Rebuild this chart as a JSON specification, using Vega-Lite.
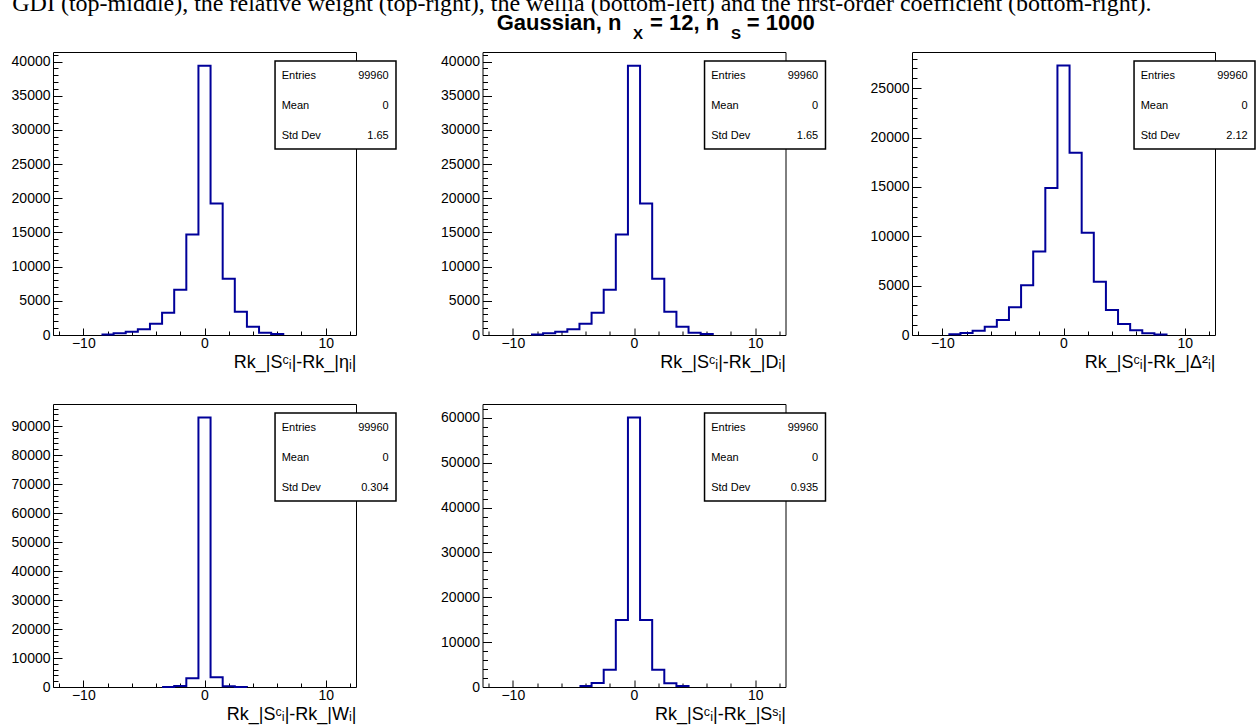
{
  "$schema": "https://vega.github.io/schema/vega-lite/v6.json",
  "padding": {"left": 11, "top": -9, "right": 0, "bottom": 12},
  "background": "white",
  "datasets": {
    "h1": [{"bin_start":-8.5,"count":80},{"bin_start":-7.5,"count":240},{"bin_start":-6.5,"count":490},{"bin_start":-5.5,"count":830},{"bin_start":-4.5,"count":1650},{"bin_start":-3.5,"count":3260},{"bin_start":-2.5,"count":6630},{"bin_start":-1.5,"count":14700},{"bin_start":-0.5,"count":39400},{"bin_start":0.5,"count":19250},{"bin_start":1.5,"count":8230},{"bin_start":2.5,"count":3410},{"bin_start":3.5,"count":1220},{"bin_start":4.5,"count":340},{"bin_start":5.5,"count":150},{"bin_start":6.5,"count":0}],
    "h2": [{"bin_start":-8.5,"count":80},{"bin_start":-7.5,"count":240},{"bin_start":-6.5,"count":490},{"bin_start":-5.5,"count":830},{"bin_start":-4.5,"count":1650},{"bin_start":-3.5,"count":3260},{"bin_start":-2.5,"count":6630},{"bin_start":-1.5,"count":14700},{"bin_start":-0.5,"count":39400},{"bin_start":0.5,"count":19250},{"bin_start":1.5,"count":8230},{"bin_start":2.5,"count":3410},{"bin_start":3.5,"count":1220},{"bin_start":4.5,"count":340},{"bin_start":5.5,"count":150},{"bin_start":6.5,"count":0}],
    "h3": [{"bin_start":-9.5,"count":80},{"bin_start":-8.5,"count":200},{"bin_start":-7.5,"count":440},{"bin_start":-6.5,"count":840},{"bin_start":-5.5,"count":1520},{"bin_start":-4.5,"count":2800},{"bin_start":-3.5,"count":5030},{"bin_start":-2.5,"count":8470},{"bin_start":-1.5,"count":14880},{"bin_start":-0.5,"count":27300},{"bin_start":0.5,"count":18450},{"bin_start":1.5,"count":10360},{"bin_start":2.5,"count":5400},{"bin_start":3.5,"count":2530},{"bin_start":4.5,"count":1110},{"bin_start":5.5,"count":470},{"bin_start":6.5,"count":170},{"bin_start":7.5,"count":60},{"bin_start":8.5,"count":0}],
    "h4": [{"bin_start":-3.5,"count":20},{"bin_start":-2.5,"count":380},{"bin_start":-1.5,"count":3000},{"bin_start":-0.5,"count":92950},{"bin_start":0.5,"count":3400},{"bin_start":1.5,"count":220},{"bin_start":2.5,"count":10},{"bin_start":3.5,"count":0}],
    "h5": [{"bin_start":-4.5,"count":220},{"bin_start":-3.5,"count":890},{"bin_start":-2.5,"count":3870},{"bin_start":-1.5,"count":14950},{"bin_start":-0.5,"count":60100},{"bin_start":0.5,"count":14950},{"bin_start":1.5,"count":3870},{"bin_start":2.5,"count":820},{"bin_start":3.5,"count":220},{"bin_start":4.5,"count":0}],
    "s1": [{"k":1,"label":"Entries","value":"99960"},{"k":2,"label":"Mean","value":"0"},{"k":3,"label":"Std Dev","value":"1.65"}],
    "s2": [{"k":1,"label":"Entries","value":"99960"},{"k":2,"label":"Mean","value":"0"},{"k":3,"label":"Std Dev","value":"1.65"}],
    "s3": [{"k":1,"label":"Entries","value":"99960"},{"k":2,"label":"Mean","value":"0"},{"k":3,"label":"Std Dev","value":"2.12"}],
    "s4": [{"k":1,"label":"Entries","value":"99960"},{"k":2,"label":"Mean","value":"0"},{"k":3,"label":"Std Dev","value":"0.304"}],
    "s5": [{"k":1,"label":"Entries","value":"99960"},{"k":2,"label":"Mean","value":"0"},{"k":3,"label":"Std Dev","value":"0.935"}]
  },
  "columns": 3,
  "spacing": {"row": 69, "column": 126.5},
  "bounds": "flush",
  "concat": [
    {
      "width": 303, "height": 283,
      "resolve": {"scale": {"y": "independent"}, "axis": {"x": "independent", "y": "independent"}},
      "layer": [
        {"data": {"name": "h1"}, "mark": {"type": "line", "interpolate": "step-after", "color": "#000099", "strokeWidth": 2},
         "encoding": {
           "x": {"field": "bin_start", "type": "quantitative", "scale": {"domain": [-12.5, 12.5], "nice": false, "zero": false},
                 "axis": {"orient": "bottom", "values": [-10, 0, 10], "format": "d", "tickSize": -7, "labelPadding": 8, "title": "Rk_|Sᶜᵢ|-Rk_|ηᵢ|", "titleAnchor": "end", "titlePadding": 3}},
           "y": {"field": "count", "type": "quantitative", "scale": {"domain": [0, 41400], "nice": false},
                 "axis": {"orient": "left", "values": [0,5000,10000,15000,20000,25000,30000,35000,40000], "format": "d", "tickSize": -9, "labelPadding": 12, "title": null}}}},
        {"data": {"name": "h1"}, "mark": {"type": "line", "strokeOpacity": 0},
         "encoding": {
           "x": {"field": "bin_start", "type": "quantitative", "scale": {"domain": [-12.5, 12.5], "nice": false, "zero": false},
                 "axis": {"orient": "bottom", "values": [-12,-8,-6,-4,-2,2,4,6,8,12], "tickSize": -4, "labels": false, "domain": false, "title": null}},
           "y": {"field": "count", "type": "quantitative", "scale": {"domain": [0, 41400], "nice": false},
                 "axis": {"orient": "left", "values": [1000,2000,3000,4000,6000,7000,8000,9000,11000,12000,13000,14000,16000,17000,18000,19000,21000,22000,23000,24000,26000,27000,28000,29000,31000,32000,33000,34000,36000,37000,38000,39000,41000], "tickSize": -5, "labels": false, "domain": false, "title": null}}}},
        {"data": {"values": [{}]}, "mark": {"type": "rect", "fill": "white", "stroke": "black", "strokeWidth": 1.5},
         "encoding": {
           "x": {"datum": 5.82, "type": "quantitative", "axis": {"orient": "top", "ticks": false, "labels": false, "title": null}},
           "x2": {"datum": 15.8},
           "y": {"datum": 0.51, "type": "quantitative", "scale": {"domain": [0.21, 9.6433], "reverse": true, "nice": false, "zero": false}, "axis": {"orient": "right", "ticks": false, "labels": false, "title": null}},
           "y2": {"datum": 3.443}}},
        {"data": {"name": "s1"}, "mark": {"type": "text", "align": "left", "baseline": "middle", "fontSize": 11, "color": "black"},
         "encoding": {
           "x": {"datum": 6.37, "type": "quantitative", "axis": null},
           "y": {"field": "k", "type": "quantitative", "scale": {"domain": [0.21, 9.6433], "reverse": true, "nice": false, "zero": false}, "axis": null},
           "text": {"field": "label"}}},
        {"data": {"name": "s1"}, "mark": {"type": "text", "align": "right", "baseline": "middle", "fontSize": 11, "color": "black"},
         "encoding": {
           "x": {"datum": 15.2, "type": "quantitative", "axis": null},
           "y": {"field": "k", "type": "quantitative", "scale": {"domain": [0.21, 9.6433], "reverse": true, "nice": false, "zero": false}, "axis": null},
           "text": {"field": "value"}}}
      ]
    },
    {
      "width": 303, "height": 283,
      "resolve": {"scale": {"y": "independent"}, "axis": {"x": "independent", "y": "independent"}},
      "layer": [
        {"data": {"name": "h2"}, "mark": {"type": "line", "interpolate": "step-after", "color": "#000099", "strokeWidth": 2},
         "encoding": {
           "x": {"field": "bin_start", "type": "quantitative", "scale": {"domain": [-12.5, 12.5], "nice": false, "zero": false},
                 "axis": {"orient": "bottom", "values": [-10, 0, 10], "format": "d", "tickSize": -7, "labelPadding": 8, "title": "Rk_|Sᶜᵢ|-Rk_|Dᵢ|", "titleAnchor": "end", "titlePadding": 3}},
           "y": {"field": "count", "type": "quantitative", "scale": {"domain": [0, 41400], "nice": false},
                 "axis": {"orient": "left", "values": [0,5000,10000,15000,20000,25000,30000,35000,40000], "format": "d", "tickSize": -9, "labelPadding": 12, "title": null}}}},
        {"data": {"name": "h2"}, "mark": {"type": "line", "strokeOpacity": 0},
         "encoding": {
           "x": {"field": "bin_start", "type": "quantitative", "scale": {"domain": [-12.5, 12.5], "nice": false, "zero": false},
                 "axis": {"orient": "bottom", "values": [-12,-8,-6,-4,-2,2,4,6,8,12], "tickSize": -4, "labels": false, "domain": false, "title": null}},
           "y": {"field": "count", "type": "quantitative", "scale": {"domain": [0, 41400], "nice": false},
                 "axis": {"orient": "left", "values": [1000,2000,3000,4000,6000,7000,8000,9000,11000,12000,13000,14000,16000,17000,18000,19000,21000,22000,23000,24000,26000,27000,28000,29000,31000,32000,33000,34000,36000,37000,38000,39000,41000], "tickSize": -5, "labels": false, "domain": false, "title": null}}}},
        {"data": {"values": [{}]}, "mark": {"type": "rect", "fill": "white", "stroke": "black", "strokeWidth": 1.5},
         "encoding": {
           "x": {"datum": 5.82, "type": "quantitative", "axis": {"orient": "top", "ticks": false, "labels": false, "title": null}},
           "x2": {"datum": 15.8},
           "y": {"datum": 0.51, "type": "quantitative", "scale": {"domain": [0.21, 9.6433], "reverse": true, "nice": false, "zero": false}, "axis": {"orient": "right", "ticks": false, "labels": false, "title": null}},
           "y2": {"datum": 3.443}}},
        {"data": {"name": "s2"}, "mark": {"type": "text", "align": "left", "baseline": "middle", "fontSize": 11, "color": "black"},
         "encoding": {
           "x": {"datum": 6.37, "type": "quantitative", "axis": null},
           "y": {"field": "k", "type": "quantitative", "scale": {"domain": [0.21, 9.6433], "reverse": true, "nice": false, "zero": false}, "axis": null},
           "text": {"field": "label"}}},
        {"data": {"name": "s2"}, "mark": {"type": "text", "align": "right", "baseline": "middle", "fontSize": 11, "color": "black"},
         "encoding": {
           "x": {"datum": 15.2, "type": "quantitative", "axis": null},
           "y": {"field": "k", "type": "quantitative", "scale": {"domain": [0.21, 9.6433], "reverse": true, "nice": false, "zero": false}, "axis": null},
           "text": {"field": "value"}}},
        {"data": {"values": [{}]}, "mark": {"type": "text", "align": "left", "baseline": "alphabetic", "fontSize": 24, "font": "Liberation Serif", "color": "black", "text": "GDI (top-middle), the relative weight (top-right), the wellia (bottom-left) and the first-order coefficient (bottom-right)."},
         "encoding": {
           "x": {"datum": -51.3, "type": "quantitative", "axis": null},
           "y": {"datum": -1.157, "type": "quantitative", "scale": {"domain": [0.21, 9.6433], "reverse": true, "nice": false, "zero": false}, "axis": null}}},
        {"data": {"values": [{}]}, "mark": {"type": "text", "align": "left", "baseline": "alphabetic", "fontSize": 22, "fontWeight": "bold", "color": "black", "text": "Gaussian, n"},
         "encoding": {
           "x": {"datum": -11.33, "type": "quantitative", "axis": null},
           "y": {"datum": -0.53, "type": "quantitative", "scale": {"domain": [0.21, 9.6433], "reverse": true, "nice": false, "zero": false}, "axis": null}}},
        {"data": {"values": [{}]}, "mark": {"type": "text", "align": "left", "baseline": "alphabetic", "fontSize": 15, "fontWeight": "bold", "color": "black", "text": "X"},
         "encoding": {
           "x": {"datum": -0.08, "type": "quantitative", "axis": null},
           "y": {"datum": -0.223, "type": "quantitative", "scale": {"domain": [0.21, 9.6433], "reverse": true, "nice": false, "zero": false}, "axis": null}}},
        {"data": {"values": [{}]}, "mark": {"type": "text", "align": "left", "baseline": "alphabetic", "fontSize": 22, "fontWeight": "bold", "color": "black", "text": "= 12, n"},
         "encoding": {
           "x": {"datum": 1.32, "type": "quantitative", "axis": null},
           "y": {"datum": -0.53, "type": "quantitative", "scale": {"domain": [0.21, 9.6433], "reverse": true, "nice": false, "zero": false}, "axis": null}}},
        {"data": {"values": [{}]}, "mark": {"type": "text", "align": "left", "baseline": "alphabetic", "fontSize": 15, "fontWeight": "bold", "color": "black", "text": "S"},
         "encoding": {
           "x": {"datum": 8.0, "type": "quantitative", "axis": null},
           "y": {"datum": -0.223, "type": "quantitative", "scale": {"domain": [0.21, 9.6433], "reverse": true, "nice": false, "zero": false}, "axis": null}}},
        {"data": {"values": [{}]}, "mark": {"type": "text", "align": "left", "baseline": "alphabetic", "fontSize": 22, "fontWeight": "bold", "color": "black", "text": "= 1000"},
         "encoding": {
           "x": {"datum": 9.3, "type": "quantitative", "axis": null},
           "y": {"datum": -0.53, "type": "quantitative", "scale": {"domain": [0.21, 9.6433], "reverse": true, "nice": false, "zero": false}, "axis": null}}}
      ]
    },
    {
      "width": 303, "height": 283,
      "resolve": {"scale": {"y": "independent"}, "axis": {"x": "independent", "y": "independent"}},
      "layer": [
        {"data": {"name": "h3"}, "mark": {"type": "line", "interpolate": "step-after", "color": "#000099", "strokeWidth": 2},
         "encoding": {
           "x": {"field": "bin_start", "type": "quantitative", "scale": {"domain": [-12.5, 12.5], "nice": false, "zero": false},
                 "axis": {"orient": "bottom", "values": [-10, 0, 10], "format": "d", "tickSize": -7, "labelPadding": 8, "title": "Rk_|Sᶜᵢ|-Rk_|Δ²ᵢ|", "titleAnchor": "end", "titlePadding": 3}},
           "y": {"field": "count", "type": "quantitative", "scale": {"domain": [0, 28665], "nice": false},
                 "axis": {"orient": "left", "values": [0,5000,10000,15000,20000,25000], "format": "d", "tickSize": -9, "labelPadding": 12, "title": null}}}},
        {"data": {"name": "h3"}, "mark": {"type": "line", "strokeOpacity": 0},
         "encoding": {
           "x": {"field": "bin_start", "type": "quantitative", "scale": {"domain": [-12.5, 12.5], "nice": false, "zero": false},
                 "axis": {"orient": "bottom", "values": [-12,-8,-6,-4,-2,2,4,6,8,12], "tickSize": -4, "labels": false, "domain": false, "title": null}},
           "y": {"field": "count", "type": "quantitative", "scale": {"domain": [0, 28665], "nice": false},
                 "axis": {"orient": "left", "values": [1000,2000,3000,4000,6000,7000,8000,9000,11000,12000,13000,14000,16000,17000,18000,19000,21000,22000,23000,24000,26000,27000,28000], "tickSize": -5, "labels": false, "domain": false, "title": null}}}},
        {"data": {"values": [{}]}, "mark": {"type": "rect", "fill": "white", "stroke": "black", "strokeWidth": 1.5},
         "encoding": {
           "x": {"datum": 5.82, "type": "quantitative", "axis": {"orient": "top", "ticks": false, "labels": false, "title": null}},
           "x2": {"datum": 15.8},
           "y": {"datum": 0.51, "type": "quantitative", "scale": {"domain": [0.21, 9.6433], "reverse": true, "nice": false, "zero": false}, "axis": {"orient": "right", "ticks": false, "labels": false, "title": null}},
           "y2": {"datum": 3.443}}},
        {"data": {"name": "s3"}, "mark": {"type": "text", "align": "left", "baseline": "middle", "fontSize": 11, "color": "black"},
         "encoding": {
           "x": {"datum": 6.37, "type": "quantitative", "axis": null},
           "y": {"field": "k", "type": "quantitative", "scale": {"domain": [0.21, 9.6433], "reverse": true, "nice": false, "zero": false}, "axis": null},
           "text": {"field": "label"}}},
        {"data": {"name": "s3"}, "mark": {"type": "text", "align": "right", "baseline": "middle", "fontSize": 11, "color": "black"},
         "encoding": {
           "x": {"datum": 15.2, "type": "quantitative", "axis": null},
           "y": {"field": "k", "type": "quantitative", "scale": {"domain": [0.21, 9.6433], "reverse": true, "nice": false, "zero": false}, "axis": null},
           "text": {"field": "value"}}}
      ]
    },
    {
      "width": 303, "height": 283,
      "resolve": {"scale": {"y": "independent"}, "axis": {"x": "independent", "y": "independent"}},
      "layer": [
        {"data": {"name": "h4"}, "mark": {"type": "line", "interpolate": "step-after", "color": "#000099", "strokeWidth": 2},
         "encoding": {
           "x": {"field": "bin_start", "type": "quantitative", "scale": {"domain": [-12.5, 12.5], "nice": false, "zero": false},
                 "axis": {"orient": "bottom", "values": [-10, 0, 10], "format": "d", "tickSize": -7, "labelPadding": 8, "title": "Rk_|Sᶜᵢ|-Rk_|Wᵢ|", "titleAnchor": "end", "titlePadding": 3}},
           "y": {"field": "count", "type": "quantitative", "scale": {"domain": [0, 97600], "nice": false},
                 "axis": {"orient": "left", "values": [0,10000,20000,30000,40000,50000,60000,70000,80000,90000], "format": "d", "tickSize": -9, "labelPadding": 12, "title": null}}}},
        {"data": {"name": "h4"}, "mark": {"type": "line", "strokeOpacity": 0},
         "encoding": {
           "x": {"field": "bin_start", "type": "quantitative", "scale": {"domain": [-12.5, 12.5], "nice": false, "zero": false},
                 "axis": {"orient": "bottom", "values": [-12,-8,-6,-4,-2,2,4,6,8,12], "tickSize": -4, "labels": false, "domain": false, "title": null}},
           "y": {"field": "count", "type": "quantitative", "scale": {"domain": [0, 97600], "nice": false},
                 "axis": {"orient": "left", "values": [2000,4000,6000,8000,12000,14000,16000,18000,22000,24000,26000,28000,32000,34000,36000,38000,42000,44000,46000,48000,52000,54000,56000,58000,62000,64000,66000,68000,72000,74000,76000,78000,82000,84000,86000,88000,92000,94000,96000], "tickSize": -5, "labels": false, "domain": false, "title": null}}}},
        {"data": {"values": [{}]}, "mark": {"type": "rect", "fill": "white", "stroke": "black", "strokeWidth": 1.5},
         "encoding": {
           "x": {"datum": 5.82, "type": "quantitative", "axis": {"orient": "top", "ticks": false, "labels": false, "title": null}},
           "x2": {"datum": 15.8},
           "y": {"datum": 0.51, "type": "quantitative", "scale": {"domain": [0.21, 9.6433], "reverse": true, "nice": false, "zero": false}, "axis": {"orient": "right", "ticks": false, "labels": false, "title": null}},
           "y2": {"datum": 3.443}}},
        {"data": {"name": "s4"}, "mark": {"type": "text", "align": "left", "baseline": "middle", "fontSize": 11, "color": "black"},
         "encoding": {
           "x": {"datum": 6.37, "type": "quantitative", "axis": null},
           "y": {"field": "k", "type": "quantitative", "scale": {"domain": [0.21, 9.6433], "reverse": true, "nice": false, "zero": false}, "axis": null},
           "text": {"field": "label"}}},
        {"data": {"name": "s4"}, "mark": {"type": "text", "align": "right", "baseline": "middle", "fontSize": 11, "color": "black"},
         "encoding": {
           "x": {"datum": 15.2, "type": "quantitative", "axis": null},
           "y": {"field": "k", "type": "quantitative", "scale": {"domain": [0.21, 9.6433], "reverse": true, "nice": false, "zero": false}, "axis": null},
           "text": {"field": "value"}}}
      ]
    },
    {
      "width": 303, "height": 283,
      "resolve": {"scale": {"y": "independent"}, "axis": {"x": "independent", "y": "independent"}},
      "layer": [
        {"data": {"name": "h5"}, "mark": {"type": "line", "interpolate": "step-after", "color": "#000099", "strokeWidth": 2},
         "encoding": {
           "x": {"field": "bin_start", "type": "quantitative", "scale": {"domain": [-12.5, 12.5], "nice": false, "zero": false},
                 "axis": {"orient": "bottom", "values": [-10, 0, 10], "format": "d", "tickSize": -7, "labelPadding": 8, "title": "Rk_|Sᶜᵢ|-Rk_|Sˢᵢ|", "titleAnchor": "end", "titlePadding": 3}},
           "y": {"field": "count", "type": "quantitative", "scale": {"domain": [0, 63105], "nice": false},
                 "axis": {"orient": "left", "values": [0,10000,20000,30000,40000,50000,60000], "format": "d", "tickSize": -9, "labelPadding": 12, "title": null}}}},
        {"data": {"name": "h5"}, "mark": {"type": "line", "strokeOpacity": 0},
         "encoding": {
           "x": {"field": "bin_start", "type": "quantitative", "scale": {"domain": [-12.5, 12.5], "nice": false, "zero": false},
                 "axis": {"orient": "bottom", "values": [-12,-8,-6,-4,-2,2,4,6,8,12], "tickSize": -4, "labels": false, "domain": false, "title": null}},
           "y": {"field": "count", "type": "quantitative", "scale": {"domain": [0, 63105], "nice": false},
                 "axis": {"orient": "left", "values": [2000,4000,6000,8000,12000,14000,16000,18000,22000,24000,26000,28000,32000,34000,36000,38000,42000,44000,46000,48000,52000,54000,56000,58000,62000], "tickSize": -5, "labels": false, "domain": false, "title": null}}}},
        {"data": {"values": [{}]}, "mark": {"type": "rect", "fill": "white", "stroke": "black", "strokeWidth": 1.5},
         "encoding": {
           "x": {"datum": 5.82, "type": "quantitative", "axis": {"orient": "top", "ticks": false, "labels": false, "title": null}},
           "x2": {"datum": 15.8},
           "y": {"datum": 0.51, "type": "quantitative", "scale": {"domain": [0.21, 9.6433], "reverse": true, "nice": false, "zero": false}, "axis": {"orient": "right", "ticks": false, "labels": false, "title": null}},
           "y2": {"datum": 3.443}}},
        {"data": {"name": "s5"}, "mark": {"type": "text", "align": "left", "baseline": "middle", "fontSize": 11, "color": "black"},
         "encoding": {
           "x": {"datum": 6.37, "type": "quantitative", "axis": null},
           "y": {"field": "k", "type": "quantitative", "scale": {"domain": [0.21, 9.6433], "reverse": true, "nice": false, "zero": false}, "axis": null},
           "text": {"field": "label"}}},
        {"data": {"name": "s5"}, "mark": {"type": "text", "align": "right", "baseline": "middle", "fontSize": 11, "color": "black"},
         "encoding": {
           "x": {"datum": 15.2, "type": "quantitative", "axis": null},
           "y": {"field": "k", "type": "quantitative", "scale": {"domain": [0.21, 9.6433], "reverse": true, "nice": false, "zero": false}, "axis": null},
           "text": {"field": "value"}}}
      ]
    }
  ],
  "config": {
    "view": {"stroke": null},
    "font": "Liberation Sans",
    "text": {"font": "Liberation Sans"},
    "axis": {"labelFont": "Liberation Sans", "labelFontSize": 14, "labelColor": "black", "tickColor": "black", "tickWidth": 1, "domainColor": "black", "domainWidth": 1, "grid": false, "labelFlush": false, "labelOverlap": false, "titleFont": "Liberation Sans", "titleFontSize": 18, "titleFontWeight": "normal", "titleColor": "black", "labelPadding": 3, "zindex": 0}
  }
}
